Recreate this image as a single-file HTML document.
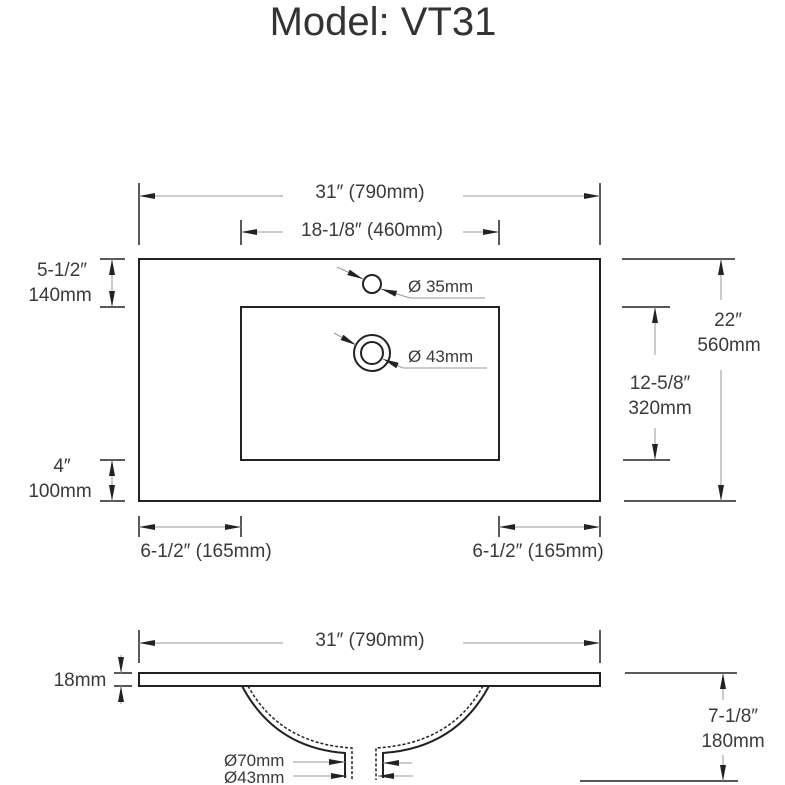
<!DOCTYPE html>
<html><head><meta charset="utf-8"><style>
html,body{margin:0;padding:0;background:#fff;width:785px;height:785px;overflow:hidden}
svg{display:block}
text{font-family:"Liberation Sans",sans-serif;fill:#3a3a3a}
</style></head><body>
<svg width="785" height="785" viewBox="0 0 785 785" xmlns="http://www.w3.org/2000/svg">
<defs>
<marker id="b" viewBox="0 0 16 6" refX="16" refY="3" markerWidth="16" markerHeight="6" markerUnits="userSpaceOnUse" orient="auto"><path d="M0,0L16,3L0,6z" fill="#222"/></marker>
</defs>
<text x="383" y="35" font-size="40" text-anchor="middle" style="fill:#333">Model: VT31</text>

<g stroke="#222" fill="none">
<rect x="139" y="259" width="461" height="242" stroke-width="2"/>
<rect x="241" y="307" width="258" height="153" stroke-width="2"/>
<line x1="139" y1="183" x2="139" y2="245" stroke-width="1.5"/>
<line x1="600" y1="183" x2="600" y2="245" stroke-width="1.5"/>
<line x1="241" y1="220" x2="241" y2="245" stroke-width="1.5"/>
<line x1="499" y1="220" x2="499" y2="245" stroke-width="1.5"/>
<line x1="100" y1="259" x2="125" y2="259" stroke-width="1.5"/>
<line x1="100" y1="307" x2="125" y2="307" stroke-width="1.5"/>
<line x1="100" y1="460" x2="125" y2="460" stroke-width="1.5"/>
<line x1="100" y1="501" x2="125" y2="501" stroke-width="1.5"/>
<line x1="139" y1="516" x2="139" y2="537" stroke-width="1.5"/>
<line x1="241" y1="516" x2="241" y2="537" stroke-width="1.5"/>
<line x1="499" y1="516" x2="499" y2="537" stroke-width="1.5"/>
<line x1="600" y1="516" x2="600" y2="537" stroke-width="1.5"/>
<line x1="622" y1="259" x2="735" y2="259" stroke-width="1.5"/>
<line x1="624" y1="501" x2="736" y2="501" stroke-width="1.5"/>
<line x1="622" y1="307" x2="670" y2="307" stroke-width="1.5"/>
<line x1="623" y1="460" x2="670" y2="460" stroke-width="1.5"/>
<circle cx="372" cy="284" r="9" stroke-width="2"/>
<circle cx="372" cy="353" r="18" stroke-width="2"/>
<circle cx="372" cy="353" r="11" stroke-width="2"/>
</g>
<g stroke="#999" stroke-width="1" fill="none">
<line x1="283" y1="196" x2="139" y2="196" marker-end="url(#b)"/>
<line x1="463" y1="196" x2="600" y2="196" marker-end="url(#b)"/>
<line x1="283" y1="232" x2="241" y2="232" marker-end="url(#b)"/>
<line x1="463" y1="232" x2="499" y2="232" marker-end="url(#b)"/>
<line x1="112" y1="283" x2="112" y2="259" marker-end="url(#b)"/>
<line x1="112" y1="283" x2="112" y2="307" marker-end="url(#b)"/>
<line x1="112" y1="480" x2="112" y2="460" marker-end="url(#b)"/>
<line x1="112" y1="480" x2="112" y2="501" marker-end="url(#b)"/>
<line x1="190" y1="527" x2="139" y2="527" marker-end="url(#b)"/>
<line x1="190" y1="527" x2="241" y2="527" marker-end="url(#b)"/>
<line x1="550" y1="527" x2="499" y2="527" marker-end="url(#b)"/>
<line x1="550" y1="527" x2="600" y2="527" marker-end="url(#b)"/>
<line x1="721" y1="300" x2="721" y2="259" marker-end="url(#b)"/>
<line x1="721" y1="370" x2="721" y2="501" marker-end="url(#b)"/>
<line x1="655" y1="355" x2="655" y2="307" marker-end="url(#b)"/>
<line x1="655" y1="428" x2="655" y2="460" marker-end="url(#b)"/>
<line x1="337" y1="267" x2="363" y2="279" marker-end="url(#b)"/>
<line x1="485" y1="298" x2="410" y2="298"/>
<line x1="410" y1="298" x2="381" y2="289" marker-end="url(#b)"/>
<line x1="334" y1="333" x2="356" y2="345" marker-end="url(#b)"/>
<line x1="487" y1="368" x2="403" y2="368"/>
<line x1="403" y1="368" x2="383" y2="359" marker-end="url(#b)"/>
</g>
<text x="370" y="198" font-size="19" text-anchor="middle">31″ (790mm)</text>
<text x="372" y="236" font-size="19" text-anchor="middle">18-1/8″ (460mm)</text>
<text x="62" y="276" font-size="19" text-anchor="middle">5-1/2″</text>
<text x="60" y="301" font-size="19" text-anchor="middle">140mm</text>
<text x="62" y="472" font-size="19" text-anchor="middle">4″</text>
<text x="60" y="497" font-size="19" text-anchor="middle">100mm</text>
<text x="206" y="557" font-size="19" text-anchor="middle">6-1/2″ (165mm)</text>
<text x="538" y="557" font-size="19" text-anchor="middle">6-1/2″ (165mm)</text>
<text x="728" y="326" font-size="19" text-anchor="middle">22″</text>
<text x="729" y="351" font-size="19" text-anchor="middle">560mm</text>
<text x="660" y="389" font-size="19" text-anchor="middle">12-5/8″</text>
<text x="660" y="414" font-size="19" text-anchor="middle">320mm</text>
<text x="408" y="292" font-size="17">Ø 35mm</text>
<text x="408" y="362" font-size="17">Ø 43mm</text>

<g stroke="#222" fill="none">
<line x1="139" y1="630" x2="139" y2="663" stroke-width="1.5"/>
<line x1="600" y1="630" x2="600" y2="663" stroke-width="1.5"/>
<rect x="139" y="673" width="461" height="13" stroke-width="2"/>
<line x1="114" y1="673" x2="132" y2="673" stroke-width="1.5"/>
<line x1="114" y1="686" x2="132" y2="686" stroke-width="1.5"/>
<line x1="625" y1="673" x2="737" y2="673" stroke-width="1.5"/>
<line x1="580" y1="781" x2="738" y2="781" stroke-width="1.5"/>
<path d="M242,686 Q275,748 345,753 L345,778" stroke-width="2"/>
<path d="M489,686 Q456,748 383,753 L383,778" stroke-width="2"/>
<path d="M248,686 Q280,744 352,748 L352,780" stroke-width="1.5" stroke-dasharray="3,2"/>
<path d="M483,686 Q451,744 376,748 L376,780" stroke-width="1.5" stroke-dasharray="3,2"/>
</g>
<g stroke="#999" stroke-width="1" fill="none">
<line x1="283" y1="643" x2="139" y2="643" marker-end="url(#b)"/>
<line x1="463" y1="643" x2="600" y2="643" marker-end="url(#b)"/>
<line x1="121" y1="655" x2="121" y2="673" marker-end="url(#b)"/>
<line x1="121" y1="704" x2="121" y2="686" marker-end="url(#b)"/>
<line x1="723" y1="700" x2="723" y2="673" marker-end="url(#b)"/>
<line x1="723" y1="755" x2="723" y2="781" marker-end="url(#b)"/>
<line x1="293" y1="762" x2="345" y2="762" marker-end="url(#b)"/>
<line x1="293" y1="776" x2="347" y2="776" marker-end="url(#b)"/>
<line x1="412" y1="763" x2="383" y2="763" marker-end="url(#b)"/>
<line x1="413" y1="776" x2="378" y2="776" marker-end="url(#b)"/>
</g>
<text x="370" y="646" font-size="19" text-anchor="middle">31″ (790mm)</text>
<text x="80" y="686" font-size="19" text-anchor="middle">18mm</text>
<text x="733" y="722" font-size="19" text-anchor="middle">7-1/8″</text>
<text x="733" y="747" font-size="19" text-anchor="middle">180mm</text>
<text x="224" y="766" font-size="17">Ø70mm</text>
<text x="224" y="783" font-size="17">Ø43mm</text>
</svg>
</body></html>
